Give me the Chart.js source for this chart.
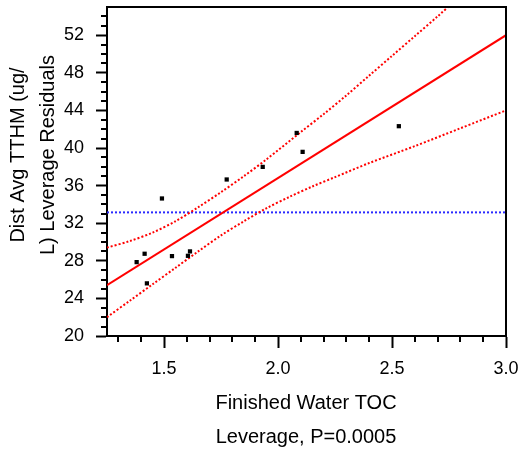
<!DOCTYPE html>
<html>
<head>
<meta charset="utf-8">
<script src="https://cdn.jsdelivr.net/npm/chart.js@4.4.1/dist/chart.umd.min.js"></script>
<style>
  html, body { margin: 0; padding: 0; background: #fff; }
  #wrap { width: 523px; height: 454px; }
</style>
</head>
<body>
<div id="wrap"><canvas id="levChart" width="523" height="454"></canvas></div>
<script>
// Values
const tocX  = [1.380, 1.415, 1.425, 1.491, 1.535, 1.605, 1.614, 1.775, 1.933, 2.082, 2.108, 2.530];
const tthmY = [27.86, 28.75, 25.60, 34.63, 28.50, 28.53, 29.00, 36.65, 37.99, 41.60, 39.59, 42.32];

// fitted line (ends at the plot edges)
const fitX = [1.25, 3.0];
const fitY = [25.4, 52.0];

// confidence curves
const upperX = [1.25, 1.35, 1.45, 1.55, 1.65, 1.75, 1.85, 1.95, 2.1, 2.2, 2.3, 2.4, 2.5, 2.6, 2.7, 2.8];
const upperY = [29.4, 30.1, 31.0, 32.2, 33.7, 35.3, 37.0, 38.8, 41.7, 43.6, 45.6, 47.7, 49.8, 51.9, 54.0, 56.2];
const lowerX = [1.25, 1.35, 1.45, 1.55, 1.65, 1.75, 1.85, 1.95, 2.05, 2.15, 2.25, 2.4, 2.6, 2.8, 3.0];
const lowerY = [22.0, 23.75, 25.5, 27.25, 29.0, 30.7, 32.2, 33.6, 34.8, 35.9, 36.9, 38.4, 40.2, 42.1, 44.0];

// horizontal mean line
const meanX = [1.25, 3.0];
const meanY = [33.15, 33.15];

const xTitle = ['Finished Water TOC', 'Leverage, P=0.0005'];
const yTitle = ['Dist Avg TTHM (ug/', 'L) Leverage Residuals'];

const FONT = "'Liberation Sans', Arial, sans-serif";

function toPoints(xs, ys) {
    return xs.map((x, i) => ({ x: x, y: ys[i] }));
}

// Box edges, minor ticks and axis titles
const framePlugin = {
    id: 'framePlugin',
    afterDraw(chart) {
        const ctx = chart.ctx;
        const area = chart.chartArea;
        const xs = chart.scales.x;
        const ys = chart.scales.y;
        ctx.save();
        ctx.strokeStyle = '#000';
        ctx.lineWidth = 2;
        ctx.beginPath();
        ctx.moveTo(area.left, area.top);
        ctx.lineTo(area.right, area.top);
        ctx.lineTo(area.right, area.bottom);
        ctx.stroke();

        ctx.beginPath();
        for (let v = 21; v <= 54; v++) {
            if (v % 4 === 0) continue;
            const py = Math.round(ys.getPixelForValue(v));
            ctx.moveTo(area.left, py);
            ctx.lineTo(area.left - 6, py);
        }
        for (let k = 13; k <= 29; k++) {
            if (k % 5 === 0) continue;
            const px = Math.round(xs.getPixelForValue(k / 10));
            ctx.moveTo(px, area.bottom);
            ctx.lineTo(px, area.bottom + 6);
        }
        ctx.stroke();

        ctx.fillStyle = '#000';
        ctx.font = '20px ' + FONT;
        ctx.textAlign = 'center';
        ctx.textBaseline = 'middle';
        ctx.fillText(xTitle[0], 306, 403);
        ctx.fillText(xTitle[1], 306, 437);

        ctx.translate(0, 155);
        ctx.rotate(-Math.PI / 2);
        ctx.fillText(yTitle[0], 0, 18);
        ctx.fillText(yTitle[1], 0, 48);
        ctx.restore();
    }
};

const ctx = document.getElementById('levChart').getContext('2d');
const levChart = new Chart(ctx, {
    type: 'scatter',
    data: {
        datasets: [
            {
                label: 'points',
                data: toPoints(tocX, tthmY),
                pointStyle: 'rect',
                pointRadius: 3,
                borderWidth: 0,
                backgroundColor: '#000'
            },
            {
                label: 'fit',
                data: toPoints(fitX, fitY),
                showLine: true,
                borderColor: '#ff0000',
                borderWidth: 2,
                pointRadius: 0
            },
            {
                label: 'upper',
                data: toPoints(upperX, upperY),
                showLine: true,
                borderColor: '#ff0000',
                borderWidth: 2,
                borderDash: [2, 2],
                tension: 0.3,
                pointRadius: 0
            },
            {
                label: 'lower',
                data: toPoints(lowerX, lowerY),
                showLine: true,
                borderColor: '#ff0000',
                borderWidth: 2,
                borderDash: [2, 2],
                tension: 0.3,
                pointRadius: 0
            },
            {
                label: 'mean',
                data: toPoints(meanX, meanY),
                showLine: true,
                borderColor: '#2a2aff',
                borderWidth: 2,
                borderDash: [2, 2],
                pointRadius: 0
            }
        ]
    },
    options: {
        responsive: false,
        animation: false,
        layout: { padding: { top: 7, right: 17, left: 0, bottom: 0 } },
        plugins: {
            legend: { display: false },
            tooltip: { enabled: false }
        },
        scales: {
            x: {
                type: 'linear',
                min: 1.25,
                max: 3.0,
                afterFit(scale) {
                    scale.height = 118;
                    scale.paddingLeft = 0;
                    scale.paddingRight = 0;
                },
                ticks: {
                    stepSize: 0.5,
                    includeBounds: false,
                    autoSkip: false,
                    maxRotation: 0,
                    padding: 10,
                    color: '#000',
                    font: { family: FONT, size: 18 },
                    callback: v => v.toFixed(1)
                },
                grid: { display: true, drawOnChartArea: false, drawTicks: true, tickLength: 12, tickWidth: 2, tickColor: '#000' },
                border: { display: true, color: '#000', width: 2 }
            },
            y: {
                type: 'linear',
                min: 20,
                max: 55,
                afterFit(scale) {
                    scale.width = 107;
                    scale.paddingTop = 0;
                    scale.paddingBottom = 0;
                },
                ticks: {
                    stepSize: 4,
                    includeBounds: false,
                    autoSkip: false,
                    padding: 12,
                    color: '#000',
                    font: { family: FONT, size: 18 }
                },
                grid: { display: true, drawOnChartArea: false, drawTicks: true, tickLength: 11, tickWidth: 2, tickColor: '#000' },
                border: { display: true, color: '#000', width: 2 }
            }
        }
    },
    plugins: [framePlugin]
});
</script>
</body>
</html>
